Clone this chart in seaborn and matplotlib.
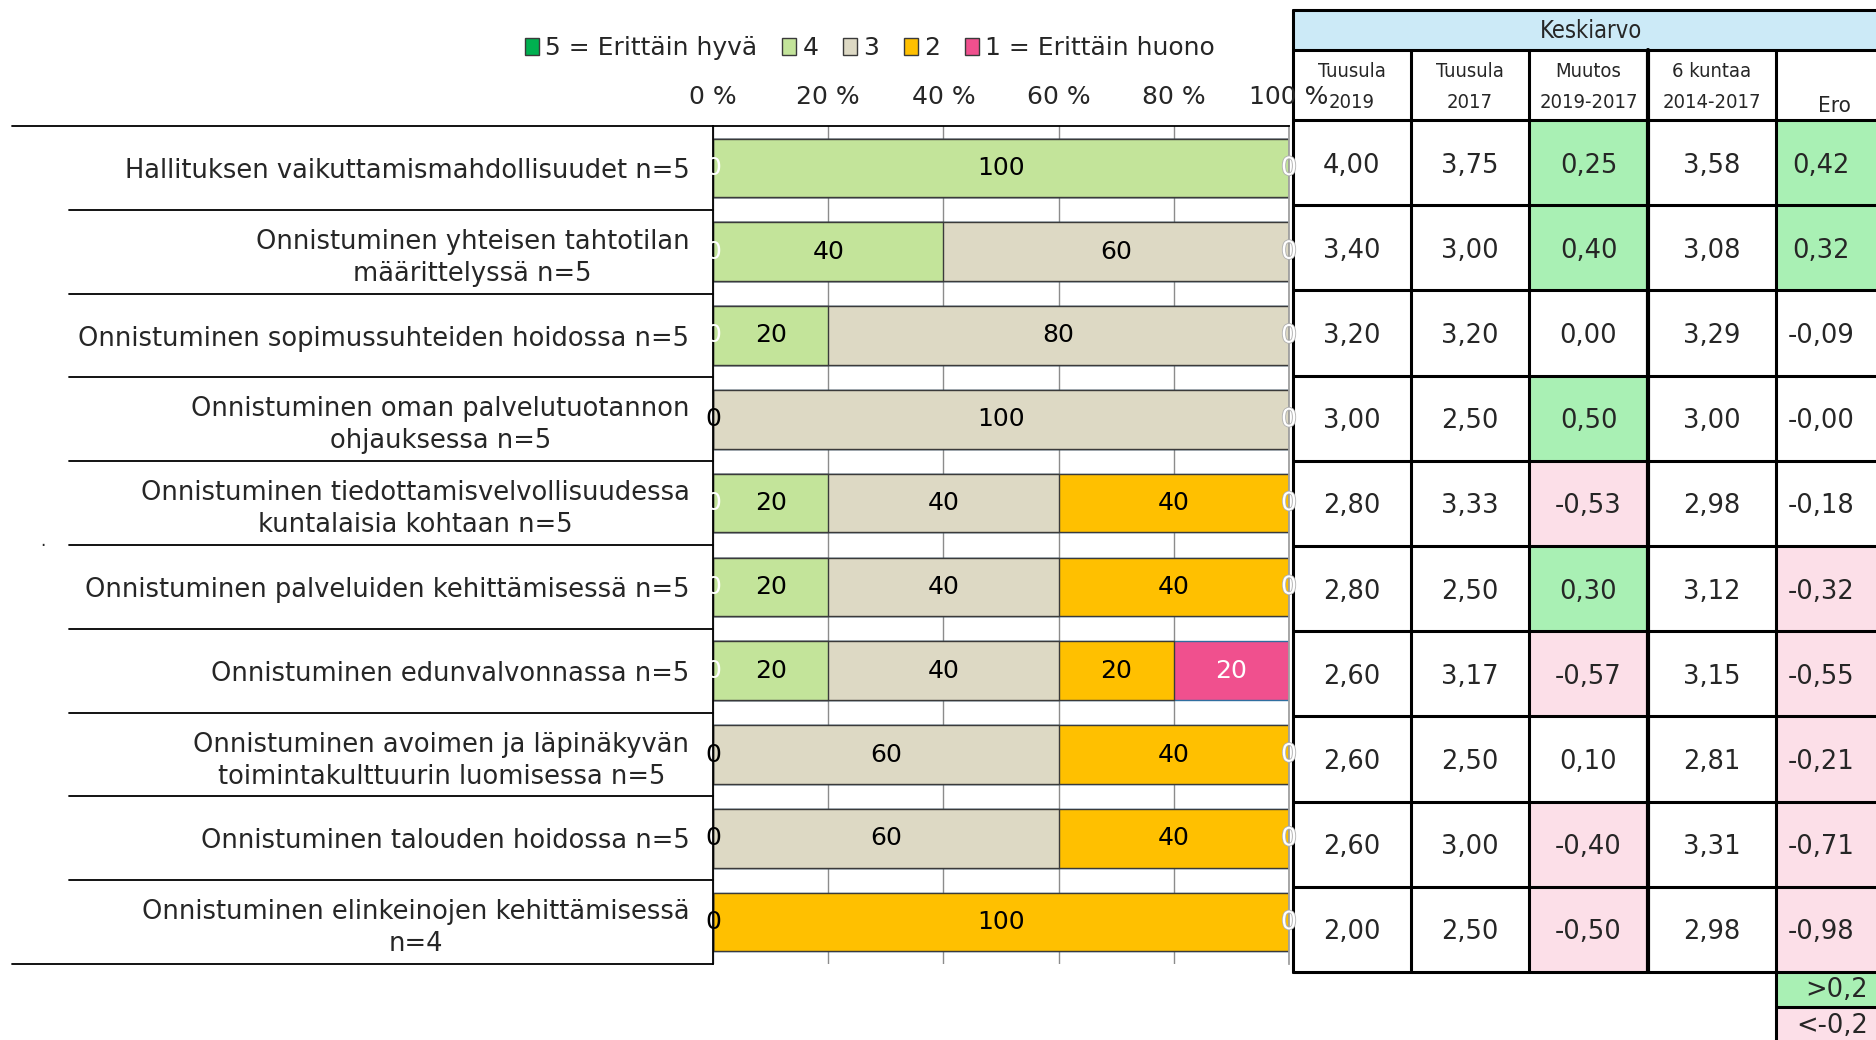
import numpy as np
import pandas as pd
import matplotlib.pyplot as plt
import matplotlib.transforms as mtransforms
import seaborn as sns
from matplotlib.patches import Rectangle, Patch
from matplotlib.lines import Line2D
import matplotlib.patheffects as pe

sns.set_style('white')
plt.rcParams['font.family'] = ['DejaVu Sans']

# --- data ---
labels = [
    "Hallituksen vaikuttamismahdollisuudet n=5",
    "Onnistuminen yhteisen tahtotilan\nmäärittelyssä n=5",
    "Onnistuminen sopimussuhteiden hoidossa n=5",
    "Onnistuminen oman palvelutuotannon\nohjauksessa n=5",
    "Onnistuminen tiedottamisvelvollisuudessa\nkuntalaisia kohtaan n=5",
    "Onnistuminen palveluiden kehittämisessä n=5",
    "Onnistuminen edunvalvonnassa n=5",
    "Onnistuminen avoimen ja läpinäkyvän\ntoimintakulttuurin luomisessa n=5",
    "Onnistuminen talouden hoidossa n=5",
    "Onnistuminen elinkeinojen kehittämisessä\nn=4",
]
cat5 = [0, 0, 0, 0, 0, 0, 0, 0, 0, 0]
cat4 = [100, 40, 20, 0, 20, 20, 20, 0, 0, 0]
cat3 = [0, 60, 80, 100, 40, 40, 40, 60, 60, 0]
cat2 = [0, 0, 0, 0, 40, 40, 20, 40, 40, 100]
cat1 = [0, 0, 0, 0, 0, 0, 20, 0, 0, 0]
legend_names = ["5 = Erittäin hyvä", "4", "3", "2", "1 = Erittäin huono"]

t2019 = [4.00, 3.40, 3.20, 3.00, 2.80, 2.80, 2.60, 2.60, 2.60, 2.00]
t2017 = [3.75, 3.00, 3.20, 2.50, 3.33, 2.50, 3.17, 2.50, 3.00, 2.50]
muutos = [0.25, 0.40, 0.00, 0.50, -0.53, 0.30, -0.57, 0.10, -0.40, -0.50]
kuntaa = [3.58, 3.08, 3.29, 3.00, 2.98, 3.12, 3.15, 2.81, 3.31, 2.98]
ero = [0.42, 0.32, -0.09, -0.0, -0.18, -0.32, -0.55, -0.21, -0.71, -0.98]
col_heads = ["Tuusula\n2019", "Tuusula\n2017", "Muutos\n2019-2017", "6 kuntaa\n2014-2017", "Ero"]

keys = ['5', '4', '3', '2', '1']
colors = {'5': '#00B050', '4': '#C3E49A', '3': '#DDD9C4', '2': '#FFC000', '1': '#F0508E'}
edges = {'5': '#3a3a3a', '4': '#3a3a3a', '3': '#3a3a3a', '2': '#3a3a3a', '1': '#2f6fa0'}
txtcol = {'5': 'white', '4': 'black', '3': 'black', '2': 'black', '1': 'white'}

df = pd.DataFrame({'label': labels, '5': cat5, '4': cat4, '3': cat3, '2': cat2, '1': cat1})
cum = df[keys].cumsum(axis=1)

W, H = 1876, 1040
fig = plt.figure(figsize=(W / 100, H / 100), dpi=100)

# table axes in pixel coordinates (drawn underneath)
tax = fig.add_axes([0, 0, 1, 1], zorder=0)
tax.set_xlim(0, W)
tax.set_ylim(H, 0)
tax.axis('off')

ax = fig.add_axes([713 / W, 1 - 964 / H, (1289 - 713) / W, (964 - 126) / H], zorder=1)
ax.patch.set_alpha(0)

# stacked bars: draw cumulative totals, widest first
for k in reversed(keys):
    sns.barplot(x=cum[k], y=df['label'], orient='h', color=colors[k], saturation=1,
                width=0.7, edgecolor=edges[k], linewidth=1, errorbar=None, ax=ax)

fs_val = 18
for i in range(len(df)):
    left = 0
    for k in keys:
        v = df.loc[i, k]
        if v > 0:
            ax.text(left + v / 2, i, f"{v}", ha='center', va='center', fontsize=fs_val,
                    color=txtcol[k])
        left += v
    # zero labels at the bar ends
    if df.loc[i, '4'] == 0:
        ax.text(0, i, "0", ha='center', va='center', fontsize=fs_val, color='black')
    else:
        ax.text(0, i, "0", ha='center', va='center', fontsize=fs_val, color='white')
    if df.loc[i, '1'] == 0:
        ax.text(100, i, "0", ha='center', va='center', fontsize=fs_val, color='white',
                path_effects=[pe.withStroke(linewidth=1.2, foreground='#b0b0b0')])

ax.set_xlim(0, 100)
ax.set_ylim(9.5, -0.5)
ax.set_xlabel('')
ax.set_ylabel('')
ax.xaxis.tick_top()
ax.set_xticks(range(0, 101, 20))
ax.set_xticklabels([f"{v} %" for v in range(0, 101, 20)], fontsize=18)
ax.tick_params(axis='x', length=0, pad=12)
ax.tick_params(axis='y', length=0, pad=17, labelsize=18.5)
plt.setp(ax.get_yticklabels(), multialignment='center', linespacing=1.3)
ax.grid(axis='x', color='#8c8c8c', lw=1)
ax.set_axisbelow(True)
for s in ['top', 'left']:
    ax.spines[s].set_color('black')
    ax.spines[s].set_linewidth(1.3)
ax.spines['bottom'].set_visible(False)
ax.spines['right'].set_color('#a0a0a0')
ax.spines['right'].set_linewidth(1.3)

# row separators in the label area
tr = mtransforms.blended_transform_factory(fig.transFigure, ax.transData)
for b in np.arange(-0.5, 10, 1):
    x0 = 12 / W if b in (-0.5, 9.5) else 69 / W
    ax.add_line(Line2D([x0, 713 / W], [b, b], transform=tr, color='black', lw=1.3,
                       clip_on=False))

# legend
handles = [Patch(facecolor=colors[k], edgecolor='#3a3a3a', lw=1) for k in keys]
fig.legend(handles, legend_names, loc='center', bbox_to_anchor=(870 / W, 1 - 48 / H),
           ncol=5, frameon=False, fontsize=18, handlelength=0.55, handleheight=0.65,
           handletextpad=0.25, columnspacing=1.0)

fig.text(40 / W, 1 - 546 / H, ".", fontsize=12)

# --- summary table ---
green, pink = '#A9F0B4', '#FCDFE8'
xe = [1293, 1411, 1529, 1648, 1776, 1866]
x_end = 1900
y_top, y_head, y_data = 10, 50, 120
rh = 85.2
ye = [y_data + rh * i for i in range(11)]

tax.add_patch(Rectangle((xe[0], y_top), x_end - xe[0], y_head - y_top, facecolor='#CCEAF7',
                        edgecolor='none'))
tax.text(1591, (y_top + y_head) / 2 + 1, "Keskiarvo", ha='center', va='center', fontsize=17,
         fontstretch='condensed')


def cell_color(v):
    if v > 0.2:
        return green
    if v < -0.2:
        return pink
    return 'white'


cols = [t2019, t2017, muutos, kuntaa, ero]
for c, vals in enumerate(cols):
    xl = xe[c]
    xr = xe[c + 1] if c < 4 else x_end
    xc = (xe[c] + xe[c + 1]) / 2
    for r, v in enumerate(vals):
        fc = cell_color(v) if c in (2, 4) else 'white'
        tax.add_patch(Rectangle((xl, ye[r]), xr - xl, rh, facecolor=fc, edgecolor='none'))
        tax.text(xc, ye[r] + rh / 2 + 3, f"{v:.2f}".replace('.', ','), ha='center',
                 va='center', fontsize=18.5)
    if c < 4:
        tax.text(xc, (y_head + y_data) / 2 + 2, col_heads[c], ha='center', va='center',
                 fontsize=14.5, fontstretch='condensed', linespacing=1.75)
    else:
        tax.text(1834, y_data - 4, col_heads[c], ha='center', va='bottom', fontsize=16,
                 fontstretch='condensed')

# color key cells under the Ero column
tax.add_patch(Rectangle((xe[4], ye[-1]), x_end - xe[4], 35, facecolor=green, edgecolor='none'))
tax.add_patch(Rectangle((xe[4], ye[-1] + 35), x_end - xe[4], 40, facecolor=pink, edgecolor='none'))
tax.text(1868, ye[-1] + 18, ">0,2", ha='right', va='center', fontsize=18.5)
tax.text(1868, ye[-1] + 54, "<-0,2", ha='right', va='center', fontsize=18.5)

# borders
lw = 2.2
tax.plot([xe[0], xe[0]], [y_top, ye[-1]], color='black', lw=lw)
for x in xe[1:5]:
    tax.plot([x, x], [y_head, ye[-1]], color='black', lw=lw if x != 1648 else 3)
tax.plot([xe[4], xe[4]], [ye[-1], H], color='black', lw=lw)
for y in [y_top, y_head] + ye:
    tax.plot([xe[0], x_end], [y, y], color='black', lw=lw)
tax.plot([xe[4], x_end], [ye[-1] + 35, ye[-1] + 35], color='black', lw=lw)

fig.savefig('out.png', dpi=100)
